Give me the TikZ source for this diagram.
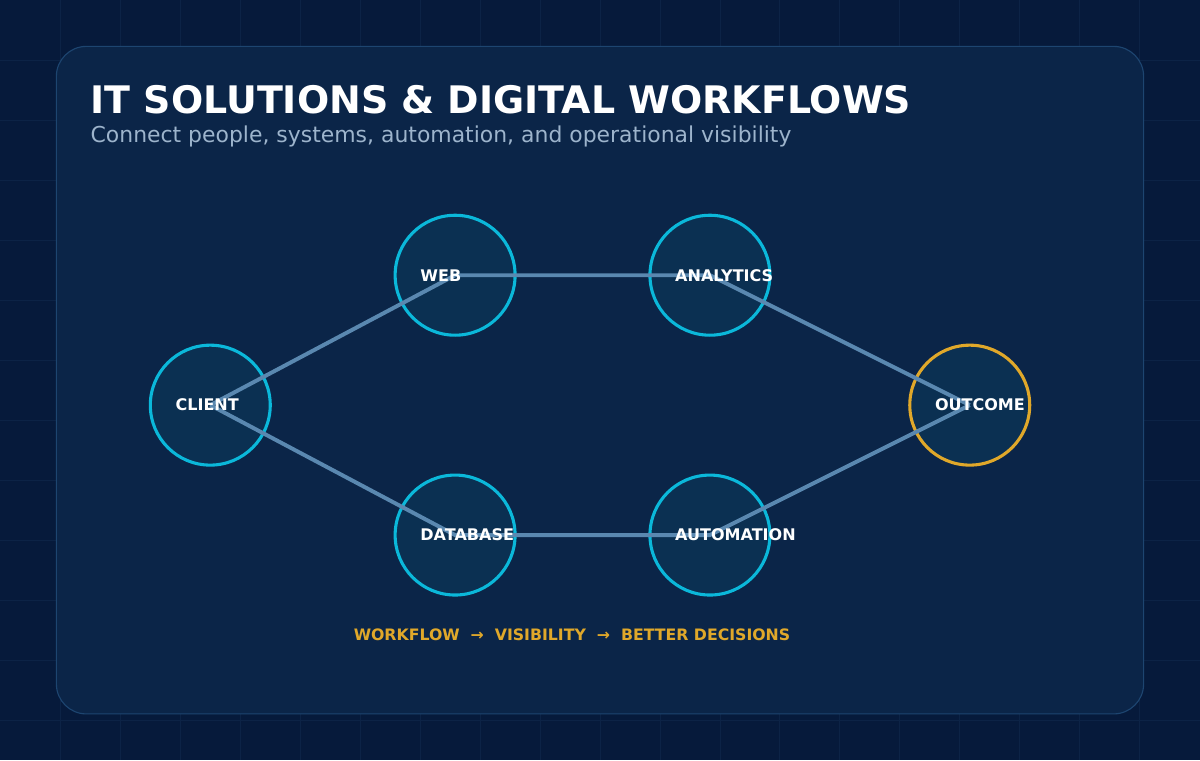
\documentclass[tikz,border=0pt]{standalone}
\usepackage{fontspec}
\setmainfont{DejaVu Sans}
\usetikzlibrary{positioning}
\definecolor{bgdark}{HTML}{061A3B}
\definecolor{gridc}{HTML}{0C2346}
\definecolor{panel}{HTML}{0B2548}
\definecolor{panelline}{HTML}{1D4570}
\definecolor{nodefill}{HTML}{0B3052}
\definecolor{cyanring}{HTML}{0BB8DA}
\definecolor{goldring}{HTML}{E0A82A}
\definecolor{linkc}{HTML}{5A88B0}
\definecolor{subc}{HTML}{9DB4CC}
\tikzset{
  hub/.style={circle, draw=cyanring, fill=nodefill, line width=2.2pt, minimum size=3cm, inner sep=0pt},
  goal/.style={hub, draw=goldring},
  link/.style={draw=linkc, line width=2.8pt},
  lbl/.style={anchor=west, text=white, font=\bfseries\fontsize{11.4}{13}\selectfont, inner sep=0pt}
}
\begin{document}
\begin{tikzpicture}[x=0.025cm, y=-0.025cm]
  \fill[bgdark] (0,0) rectangle (1200,760);
  \foreach \x in {60,120,...,1140} \draw[gridc, line width=0.6pt] (\x,0) -- (\x,760);
  \foreach \y in {60,120,...,720} \draw[gridc, line width=0.6pt] (0,\y) -- (1200,\y);
  \draw[panelline, fill=panel, line width=0.8pt, rounded corners=0.75cm] (56,46) rectangle (1144,714);
  % title
  \node[anchor=west, text=white, font=\bfseries\fontsize{27}{30}\selectfont, inner sep=0pt] (title) at (90,99) {IT SOLUTIONS \& DIGITAL WORKFLOWS};
  \node[anchor=west, text=subc, font=\fontsize{15.6}{18}\selectfont, inner sep=0pt] (sub) at (90,136) {Connect people, systems, automation, and operational visibility};
  % circles
  \node[hub] (client) at (210,405) {};
  \node[hub] (web) at (455,275) {};
  \node[hub] (analytics) at (710,275) {};
  \node[goal] (outcome) at (970,405) {};
  \node[hub] (database) at (455,535) {};
  \node[hub] (automation) at (710,535) {};
  % links
  \draw[link] (client.center) -- (web.center) -- (analytics.center) -- (outcome.center);
  \draw[link] (client.center) -- (database.center) -- (automation.center) -- (outcome.center);
  % labels
  \foreach \n/\t in {client/CLIENT, web/WEB, analytics/ANALYTICS, outcome/OUTCOME, database/DATABASE, automation/AUTOMATION}
    \node[lbl] (\n-l) at ([xshift=-35*0.025cm]\n.center) {\t};
  \node[text=goldring, font=\bfseries\fontsize{11.2}{13}\selectfont, inner sep=0pt] (footer) at (572,635) {WORKFLOW~~→~~VISIBILITY~~→~~BETTER DECISIONS};
\end{tikzpicture}
\end{document}
